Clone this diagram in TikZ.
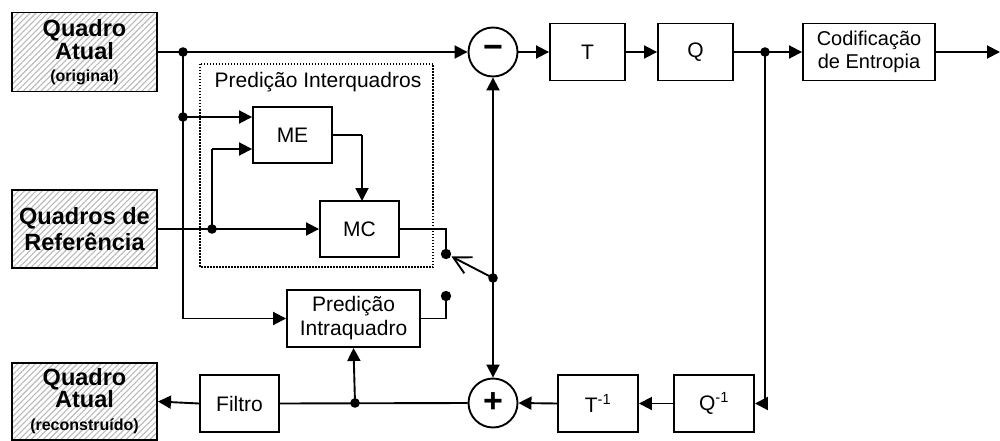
\documentclass[tikz,border=0pt]{standalone}
\usepackage{fontspec}
\setmainfont{Liberation Sans}
\usetikzlibrary{arrows.meta,patterns.meta}
\newcommand\subtxt{\bfseries\fontsize{16}{18}\selectfont}
\begin{document}
\begin{tikzpicture}[x=1pt,y=-1pt,
  every node/.style={font=\fontsize{21}{24}\selectfont},
  line/.style={line width=1.9pt},
  arr/.style={line width=1.9pt,-{Triangle[length=13pt,width=13pt]}},
  blk/.style={draw,line width=1.9pt,inner sep=0pt,align=center},
  src/.style={draw,line width=1.9pt,inner sep=0pt,align=center,
    font=\bfseries\fontsize{23.5}{25}\selectfont,
    pattern={Lines[angle=45,distance=4.2pt,line width=1.1pt]},pattern color=gray!55},
  sumnode/.style={circle,draw,line width=1.9pt,minimum size=49pt,inner sep=0pt,
    font=\bfseries\fontsize{34}{34}\selectfont},
  dot/.style={fill=black}
]
\useasboundingbox (0,0) rectangle (1000,441);

% source / sink boxes
\node[src,minimum width=145pt,minimum height=79pt] (qa) at (84.5,52)
  {Quadro\\[-2pt]Atual\\[-3pt]{\subtxt (original)}};
\node[src,minimum width=145pt,minimum height=78pt] (qr) at (84.5,229)
  {Quadros de\\[1pt]Referência};
\node[src,minimum width=145pt,minimum height=77pt] (qrec) at (84.5,401.5)
  {Quadro\\[-3pt]Atual\\[-2pt]{\subtxt (reconstruído)}};

% blocks
\node[blk,minimum width=79pt,minimum height=56pt] (me) at (292.5,135) {ME};
\node[blk,minimum width=79pt,minimum height=56pt] (mc) at (359.5,229) {MC};
\node[blk,minimum width=133pt,minimum height=57pt] (intra) at (353.5,318.5) {Predição\\Intraquadro};
\node[blk,minimum width=79pt,minimum height=57pt] (filtro) at (239.5,403.5) {Filtro};
\node[blk,minimum width=75pt,minimum height=57pt] (t) at (587.5,52) {T};
\node[blk,minimum width=75pt,minimum height=57pt] (q) at (695.5,52) {Q};
\node[blk,minimum width=132pt,minimum height=57pt,font=\fontsize{20}{23}\selectfont] (cod) at (869,52) {Codificação\\de Entropia};
\node[blk,minimum width=80pt,minimum height=57pt] (qinv) at (714,403.5) {Q\textsuperscript{-1}};
\node[blk,minimum width=80pt,minimum height=57pt] (tinv) at (598,403.5) {T\textsuperscript{-1}};

\node[sumnode] (minus) at (493,52) {\raisebox{1pt}{−}};
\node[sumnode] (plus) at (493,403) {\raisebox{-2pt}{+}};

% dotted group
\draw[line width=1.5pt,dash pattern=on 1.5pt off 1.5pt] (200,64) rectangle (433,267);
\node (grp) at (318,82) {Predição Interquadros};

% junctions
\coordinate (j1) at (183,52);
\coordinate (j2) at (183,117);
\coordinate (j3) at (212,229);
\coordinate (piv) at (493,278);
\coordinate (c1) at (446,254);
\coordinate (c2) at (446,296);
\coordinate (tip) at (451.5,256.5);
\coordinate (j4) at (765,52);
\coordinate (j5) at (355,403);
\coordinate (out) at (1000,52);

% connectors
\draw[arr] (qa.east) -- (minus.west);
\draw[line] (j1) -- (j1 |- intra.west);
\draw[arr] (j1 |- intra.west) -- (intra.west);
\draw[arr] (j2) -- (me.west |- j2);
\draw[line] (j3) -- (212,149);
\draw[arr] (212,149) -- (me.west |- 0,149);
\draw[arr] (qr.east) -- (mc.west);
\draw[line] (me.east) -- (362,135);
\draw[arr] (362,135) -- (362,201);
\draw[line] (mc.east) -- (c1 |- mc.east) -- (c1);
\draw[line] (intra.east) -- (c2 |- intra.east) -- (c2);
\draw[line width=1.9pt,-{Straight Barb[length=17pt,width=18pt,line width=1.9pt]}] (piv) -- (tip);
\draw[arr] (piv) -- (minus.south);
\draw[arr] (piv) -- (plus.north);
\draw[arr] (minus.east) -- (t.west);
\draw[arr] (t.east) -- (q.west);
\draw[line] (q.east) -- (j4);
\draw[arr] (j4) -- (cod.west);
\draw[arr] (cod.east) -- (out);
\draw[line] (j4) -- (j4 |- qinv.east);
\draw[arr] (j4 |- qinv.east) -- (qinv.east);
\draw[arr] (qinv.west) -- (tinv.east);
\draw[arr] (tinv.west) -- (plus.east);
\draw[line] (plus.west) -- (filtro.east);
\draw[arr] (j5) -- (intra.south);
\draw[arr] (filtro.west) -- (qrec.east);

% dots
\foreach \p in {j1,j2,j3,j4,j5,piv} \fill[dot] (\p) circle (4.8);
\foreach \p in {c1,c2} \fill[dot] (\p) circle (5.2);
\end{tikzpicture}
\end{document}
